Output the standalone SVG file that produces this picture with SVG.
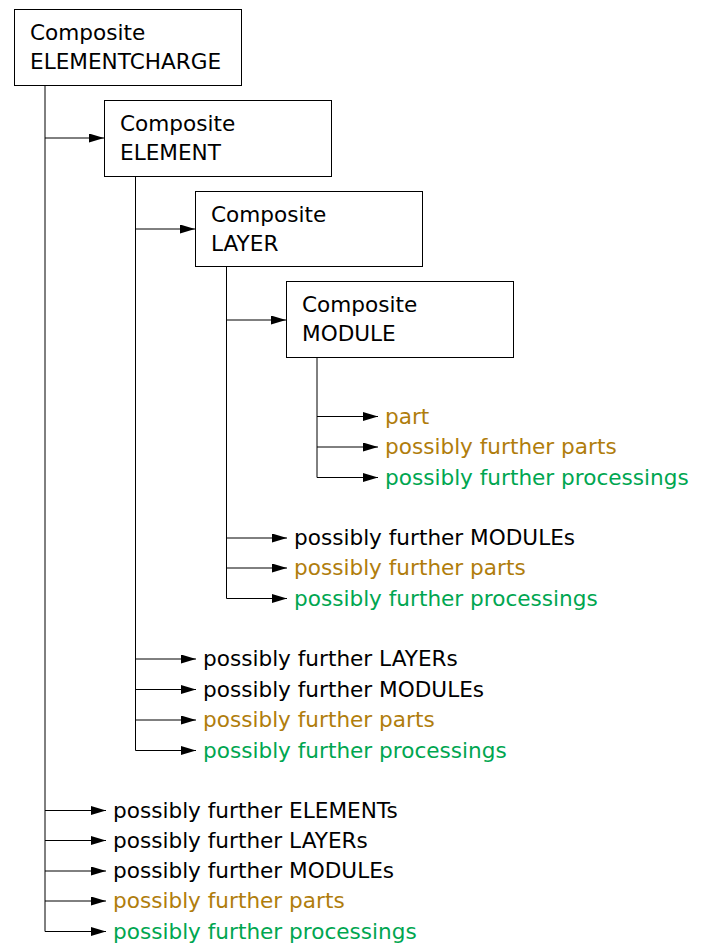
<svg xmlns="http://www.w3.org/2000/svg" width="708" height="944" viewBox="0 0 708 944">
<defs>
<marker id="ah" markerUnits="userSpaceOnUse" markerWidth="16" markerHeight="10" refX="15" refY="4.5" orient="auto">
<path d="M0,0 L15,4.5 L0,9 z" fill="#000"/>
</marker>
<style>
text{font-family:"DejaVu Sans",Verdana,sans-serif;font-size:21.6px;fill:#000}
.box{fill:#fff;stroke:#000;stroke-width:1}
.ln{fill:none;stroke:#000;stroke-width:1}
.ar{fill:none;stroke:#000;stroke-width:1;marker-end:url(#ah)}
.br{fill:#B07D0C}
.gr{fill:#00A650}
</style>
</defs>
<rect width="708" height="944" fill="#fff"/>
<g id="connectors">
<path class="ln" d="M45,85.5 V931.5 M135.5,176.5 V750.5 M226.5,266.5 V598.5 M317,357.5 V477.5"/>
<path class="ar" d="M45,138 H104"/>
<path class="ar" d="M135.5,229 H195"/>
<path class="ar" d="M226.5,320 H286"/>
<path class="ar" d="M317,416.5 H378"/>
<path class="ar" d="M317,447 H378"/>
<path class="ar" d="M317,477.5 H378"/>
<path class="ar" d="M226.5,538 H287"/>
<path class="ar" d="M226.5,568 H287"/>
<path class="ar" d="M226.5,598.5 H287"/>
<path class="ar" d="M135.5,659 H196"/>
<path class="ar" d="M135.5,689.5 H196"/>
<path class="ar" d="M135.5,720 H196"/>
<path class="ar" d="M135.5,750.5 H196"/>
<path class="ar" d="M45,810.5 H106"/>
<path class="ar" d="M45,840.5 H106"/>
<path class="ar" d="M45,871 H106"/>
<path class="ar" d="M45,901 H106"/>
<path class="ar" d="M45,931.5 H106"/>
</g>
<g id="elementcharge">
<rect class="box" x="14.5" y="9.5" width="227" height="76"/>
<text x="30" y="40">Composite</text>
<text x="30" y="69">ELEMENTCHARGE</text>
</g>
<g id="element">
<rect class="box" x="104.5" y="100.5" width="227" height="76"/>
<text x="120" y="131">Composite</text>
<text x="120" y="160">ELEMENT</text>
</g>
<g id="layer">
<rect class="box" x="195.5" y="191.5" width="227" height="75"/>
<text x="211" y="222">Composite</text>
<text x="211" y="251">LAYER</text>
</g>
<g id="module">
<rect class="box" x="286.5" y="281.5" width="227" height="76"/>
<text x="302" y="312">Composite</text>
<text x="302" y="341">MODULE</text>
</g>
<g id="module-items">
<text class="br" x="385" y="423.5">part</text>
<text class="br" x="385" y="454">possibly further parts</text>
<text class="gr" x="385" y="484.5">possibly further processings</text>
</g>
<g id="layer-items">
<text x="294" y="545">possibly further MODULEs</text>
<text class="br" x="294" y="575">possibly further parts</text>
<text class="gr" x="294" y="605.5">possibly further processings</text>
</g>
<g id="element-items">
<text x="203" y="666">possibly further LAYERs</text>
<text x="203" y="696.5">possibly further MODULEs</text>
<text class="br" x="203" y="727">possibly further parts</text>
<text class="gr" x="203" y="757.5">possibly further processings</text>
</g>
<g id="elementcharge-items">
<text x="113" y="817.5">possibly further ELEMENTs</text>
<text x="113" y="847.5">possibly further LAYERs</text>
<text x="113" y="878">possibly further MODULEs</text>
<text class="br" x="113" y="908">possibly further parts</text>
<text class="gr" x="113" y="938.5">possibly further processings</text>
</g>
</svg>
